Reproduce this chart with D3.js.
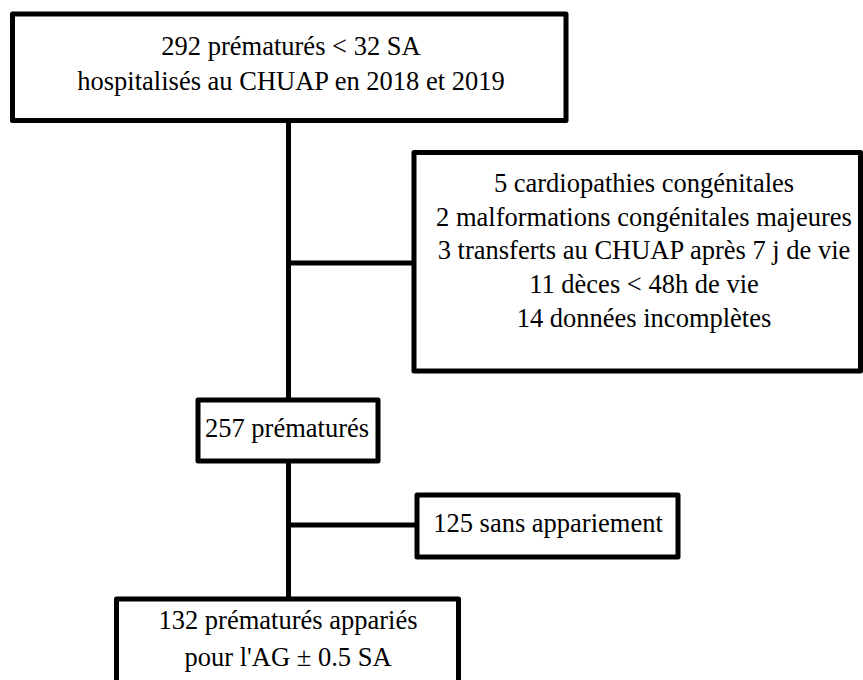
<!DOCTYPE html>
<html>
<head>
<meta charset="utf-8">
<script src="https://cdn.jsdelivr.net/npm/d3@7"></script>
</head>
<body style="margin:0">
<script>
// box labels of the flow chart
const startLabel = ["292 prématurés < 32 SA", "hospitalisés au CHUAP en 2018 et 2019"];
const exclusionLabel = [
    "5 cardiopathies congénitales",
    "2 malformations congénitales majeures",
    "3 transferts au CHUAP après 7 j de vie",
    "11 dèces < 48h de vie",
    "14 données incomplètes"
];
const includedLabel = ["257 prématurés"];
const unmatchedLabel = ["125 sans appariement"];
const matchedLabel = ["132 prématurés appariés", "pour l'AG ± 0.5 SA"];

const width = 863, height = 680;

const svg = d3.select("body")
    .append("svg")
    .attr("width", width)
    .attr("height", height)
    .attr("font-family", "'Times New Roman'")
    .style("font-family", "'Times New Roman'");

// layout of the boxes (stroke centres) and where the text goes
const boxes = [
    { lines: startLabel,     x0: 12.5, x1: 566,   y0: 14,  y1: 120.5, tx: 291, ty: 55,  lh: 35 },
    { lines: exclusionLabel, x0: 414,  x1: 860.5, y0: 152.5, y1: 371, tx: 644, ty: 192, lh: 33.7 },
    { lines: includedLabel,  x0: 198,  x1: 378,   y0: 400, y1: 461,   tx: 287, ty: 437, lh: 0 },
    { lines: unmatchedLabel, x0: 417,  x1: 678,   y0: 495, y1: 557,   tx: 548, ty: 532, lh: 0 },
    { lines: matchedLabel,   x0: 116.5, x1: 458.5, y0: 599, y1: 720,  tx: 288, ty: 629, lh: 37 }
];

const trunkX = 288.5;
const links = [
    [[trunkX, 120.5], [trunkX, 400]],
    [[trunkX, 263], [414, 263]],
    [[trunkX, 461], [trunkX, 599]],
    [[trunkX, 525], [417, 525]]
];

const line = d3.line();

svg.selectAll("path.link")
    .data(links)
    .join("path")
    .attr("class", "link")
    .attr("d", line)
    .attr("fill", "none")
    .attr("stroke", "#000")
    .attr("stroke-width", 5);

const g = svg.selectAll("g.box")
    .data(boxes)
    .join("g")
    .attr("class", "box");

g.append("rect")
    .attr("x", d => d.x0)
    .attr("y", d => d.y0)
    .attr("width", d => d.x1 - d.x0)
    .attr("height", d => d.y1 - d.y0)
    .attr("fill", "#fff")
    .attr("stroke", "#000")
    .attr("stroke-width", 5)
    .attr("stroke-linejoin", "round");

g.each(function (d) {
    d3.select(this).selectAll("text")
        .data(d.lines)
        .join("text")
        .attr("x", d.tx)
        .attr("y", (t, i) => d.ty + i * d.lh)
        .attr("text-anchor", "middle")
        .attr("fill", "#000")
        .attr("font-family", "'Times New Roman'")
        .style("font-family", "'Times New Roman'")
        .attr("font-size", 26.5)
        .text(t => t);
});
</script>
</body>
</html>
